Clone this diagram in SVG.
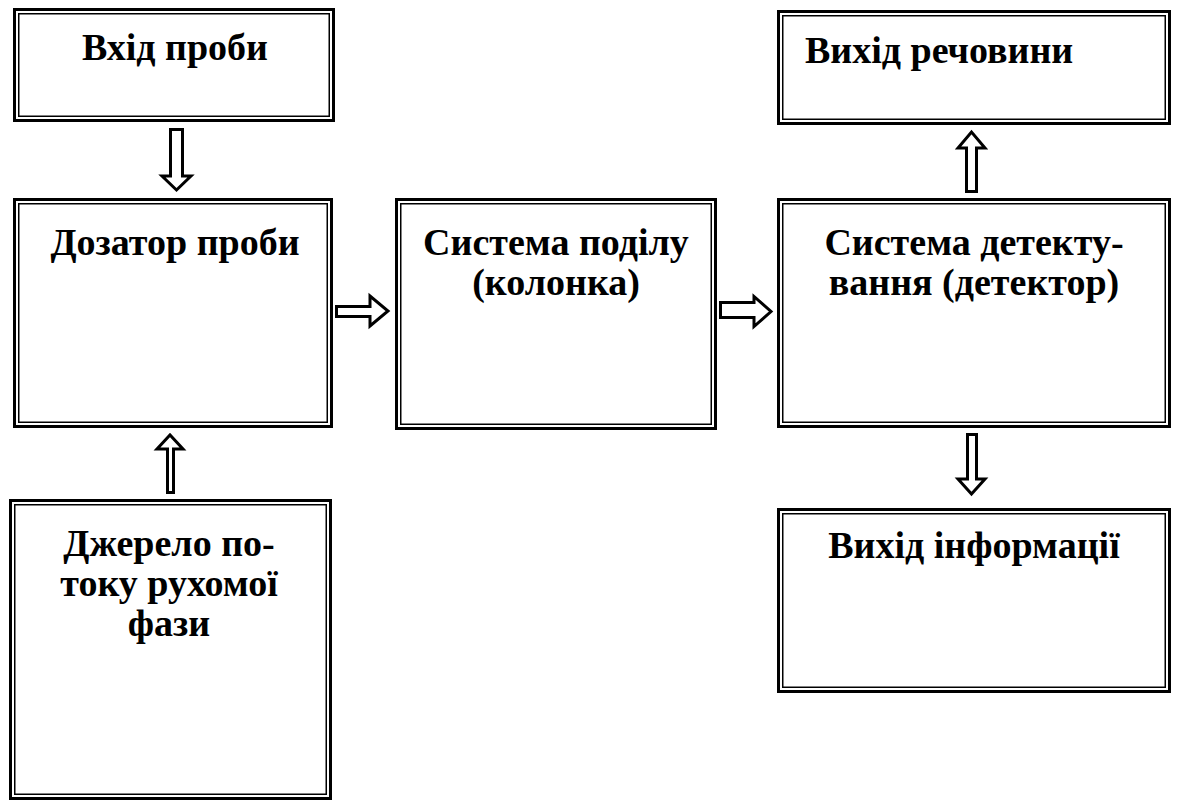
<svg xmlns="http://www.w3.org/2000/svg" width="1178" height="805" viewBox="0 0 1178 805">
<style>
.o{fill:#fff;stroke:#000;stroke-width:3}
.i{fill:none;stroke:#000;stroke-width:1.5}
.t{font-family:"Liberation Serif","Times New Roman",serif;font-weight:bold;font-size:38px;fill:#000}
.c{text-anchor:middle}
.a{fill:#fff;stroke:#000;stroke-width:3;stroke-linejoin:miter}
</style>
<rect width="1178" height="805" fill="#fff"/>
<g id="n1">
<rect class="o" x="14.5" y="9.5" width="319" height="111"/>
<rect class="i" x="18.75" y="13.75" width="310.5" height="102.5"/>
<text class="t c" x="175" y="60">Вхід проби</text>
</g>
<g id="n2">
<rect class="o" x="14.5" y="199.5" width="317" height="227"/>
<rect class="i" x="18.75" y="203.75" width="308.5" height="218.5"/>
<text class="t c" x="175" y="255">Дозатор проби</text>
</g>
<g id="n3">
<rect class="o" x="396.5" y="199.5" width="319" height="229"/>
<rect class="i" x="400.75" y="203.75" width="310.5" height="220.5"/>
<text class="t c" x="556" y="255">Система поділу</text>
<text class="t c" x="556" y="295">(колонка)</text>
</g>
<g id="n4">
<rect class="o" x="10.5" y="500.5" width="320" height="298"/>
<rect class="i" x="14.75" y="504.75" width="311.5" height="289.5"/>
<text class="t c" x="169" y="556">Джерело по-</text>
<text class="t c" x="169" y="596">току рухомої</text>
<text class="t c" x="169" y="636">фази</text>
</g>
<g id="n5">
<rect class="o" x="778.5" y="199.5" width="391" height="227"/>
<rect class="i" x="782.75" y="203.75" width="382.5" height="218.5"/>
<text class="t c" x="974" y="255">Система детекту-</text>
<text class="t c" x="974" y="295">вання (детектор)</text>
</g>
<g id="n6">
<rect class="o" x="778.5" y="11.5" width="391" height="112"/>
<rect class="i" x="782.75" y="15.75" width="382.5" height="103.5"/>
<text class="t" x="805" y="63">Вихід речовини</text>
</g>
<g id="n7">
<rect class="o" x="778.5" y="509.5" width="391" height="182"/>
<rect class="i" x="782.75" y="513.75" width="382.5" height="173.5"/>
<text class="t c" x="974" y="558">Вихід інформації</text>
</g>
<g id="connectors">
<polygon class="a" points="170.5,129.5 182.5,129.5 182.5,176 191,176 176.5,190 162,176 170.5,176"/>
<polygon class="a" points="167.5,492.5 173.5,492.5 173.5,449 183,449 170,435 157,449 167.5,449"/>
<polygon class="a" points="336.5,306.5 370,306.5 370,296 388,311 370,326 370,316.5 336.5,316.5"/>
<polygon class="a" points="720.5,302.5 754,302.5 754,296.5 771,311.5 754,326.5 754,317.5 720.5,317.5"/>
<polygon class="a" points="966.5,191.5 976.5,191.5 976.5,148 985,148 971.5,132 958,148 966.5,148"/>
<polygon class="a" points="967.5,434.5 976.5,434.5 976.5,479 985,479 971.5,494 958,479 967.5,479"/>
</g>
</svg>
